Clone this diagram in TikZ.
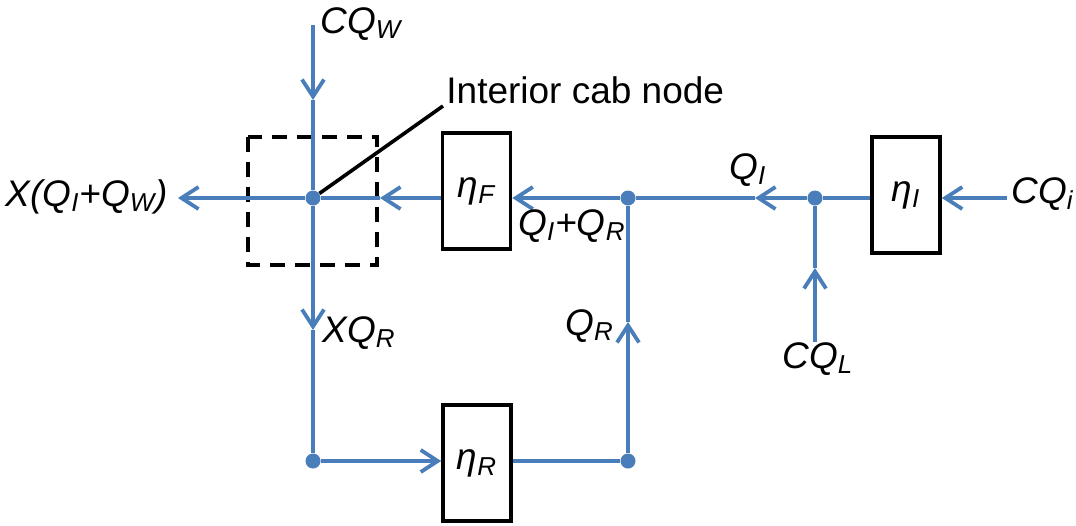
\documentclass[tikz,border=0pt]{standalone}
\usepackage{fontspec}
\setmainfont{Liberation Sans}
\usetikzlibrary{arrows.meta}
\definecolor{flowblue}{RGB}{74,126,187}
\begin{document}
\begin{tikzpicture}[x=0.5pt, y=-0.5pt,
    flow/.style={draw=flowblue, line width=1.9pt},
    tip/.style={flow, -{Straight Barb[length=8.5pt, width=11pt, line width=1.9pt]}},
    dot/.style={circle, fill=flowblue, inner sep=0pt, minimum size=7.5pt},
    block/.style={draw, line width=1.8pt, minimum width=34pt, minimum height=58pt, inner sep=0pt,
      font=\fontsize{18.5}{22}\selectfont\itshape},
    lbl/.style={font=\fontsize{18.5}{22}\selectfont\itshape, inner sep=0pt}]
  \useasboundingbox (0,0) rectangle (1076,525);
  % blocks
  \node[block] (etaF) at (476.5,191) {η\textsubscript{F}};
  \node[block] (etaI) at (906,195) {η\textsubscript{I}};
  \node[block] (etaR) at (477,463) {η\textsubscript{R}};
  % points on the lines
  \coordinate (W0) at (313,25);
  \coordinate (aW) at (313,100);
  \coordinate (out) at (178,198);
  \coordinate (aF) at (380,198);
  \coordinate (aQI) at (755,198);
  \coordinate (Ci) at (1007,198);
  \coordinate (CL) at (815,342);
  \coordinate (aL) at (815,268);
  \coordinate (aX) at (313,330);
  \coordinate (aR) at (628,322);
  \coordinate (lead) at (443,106);
  \node[dot] (J) at (313,198) {};
  \node[dot] (J2) at (628,198) {};
  \node[dot] (J3) at (815,198) {};
  \node[dot] (B1) at (313,461) {};
  \node[dot] (B2) at (628,461) {};
  % cab node
  \draw[line width=1.8pt, dash pattern=on 7.5pt off 5pt] (248,137) rectangle (377,265);
  \draw[line width=1.8pt] (J) -- (lead);
  % flows
  \draw[tip] (W0) -- (aW);
  \draw[flow] (aW) -- (J);
  \draw[tip] (J) -- (out);
  \draw[tip] (etaF.west |- J) -- (aF);
  \draw[flow] (aF) -- (J);
  \draw[tip] (J2) -- (J2 -| etaF.east);
  \draw[tip] (J3) -- (aQI);
  \draw[flow] (aQI) -- (J2);
  \draw[flow] (etaI.west |- J3) -- (J3);
  \draw[tip] (Ci) -- (Ci -| etaI.east);
  \draw[tip] (CL) -- (aL);
  \draw[flow] (aL) -- (J3);
  \draw[tip] (J) -- (aX);
  \draw[flow] (aX) -- (B1);
  \draw[tip] (B1) -- (B1 -| etaR.west);
  \draw[flow] (etaR.east |- B2) -- (B2);
  \draw[tip] (B2) -- (aR);
  \draw[flow] (aR) -- (J2);
  % labels
  \node[lbl, anchor=base west] (tCQW) at (320,33) {CQ\textsubscript{W}};
  \node[lbl, anchor=base west] (tcab) at (446,103) {\upshape Interior cab node};
  \node[lbl, anchor=base east] (tout) at (168,206) {X(Q\textsubscript{I}+Q\textsubscript{W})};
  \node[lbl, anchor=base west] (tQIR) at (518,235) {Q\textsubscript{I}+Q\textsubscript{R}};
  \node[lbl, anchor=base west] (tQI) at (729,179) {Q\textsubscript{I}};
  \node[lbl, anchor=base west] (tCQi) at (1011,203) {CQ\textsubscript{i}};
  \node[lbl, anchor=base west] (tXQR) at (322,342) {XQ\textsubscript{R}};
  \node[lbl, anchor=base west] (tQR) at (565,335) {Q\textsubscript{R}};
  \node[lbl, anchor=base west] (tCQL) at (782,368) {CQ\textsubscript{L}};
\end{tikzpicture}
\end{document}
